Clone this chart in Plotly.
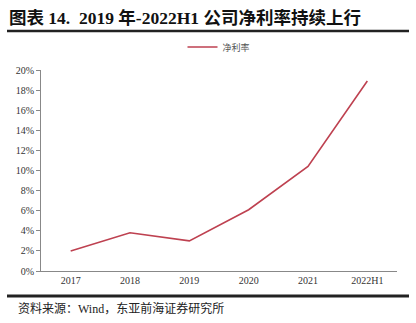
import plotly.graph_objects as go

categories = ["2017", "2018", "2019", "2020", "2021", "2022H1"]
net_margin = [0.020, 0.038, 0.030, 0.061, 0.104, 0.189]
series_name = "净利率"
y_ticks = [0, 0.02, 0.04, 0.06, 0.08, 0.10, 0.12, 0.14, 0.16, 0.18, 0.20]

W, H = 416, 323
L, R, T, B = 41, 19, 70, 52
pw = W - L - R
ph = H - T - B

def px(x):
    return (x - L) / pw

def py(y):
    return (H - B - y) / ph

fig = go.Figure()
fig.add_trace(go.Scatter(
    x=categories, y=net_margin, mode="lines", name=series_name,
    line=dict(color="#BE4150", width=1.6),
))

fig.update_layout(
    width=W, height=H,
    margin=dict(l=L, r=R, t=T, b=B),
    paper_bgcolor="white", plot_bgcolor="white",
    font=dict(family="Liberation Serif, Noto Sans CJK SC", size=10, color="#333"),
    showlegend=True,
    legend=dict(orientation="h", x=0.5, xanchor="center", y=py(47), yanchor="middle",
                font=dict(size=9, color="#555", family="Noto Sans CJK SC"),
                itemwidth=30, bgcolor="rgba(0,0,0,0)"),
    xaxis=dict(type="category", showline=True, linecolor="#888", linewidth=1,
               ticks="", showgrid=False, tickfont=dict(size=10, color="#333"),
               range=[-0.5, 5.5]),
    yaxis=dict(range=[0, 0.2], tickvals=y_ticks, tickformat=".0%", showline=True,
               linecolor="#888", linewidth=1, ticks="outside", ticklen=4,
               tickcolor="#888", showgrid=False, zeroline=False,
               tickfont=dict(size=10, color="#333")),
)

fig.add_annotation(
    text="<b>图表 14.  2019 年-2022H1 公司净利率持续上行</b>",
    xref="paper", yref="paper", x=px(7), y=py(18), xanchor="left", yanchor="middle",
    showarrow=False, font=dict(size=17.5, color="#111",
                               family="Liberation Serif, Noto Sans CJK SC"),
)
fig.add_annotation(
    text="资料来源：Wind，东亚前海证券研究所",
    xref="paper", yref="paper", x=px(16), y=py(308), xanchor="left", yanchor="middle",
    showarrow=False, font=dict(size=12, color="#222",
                               family="Liberation Serif, Noto Sans CJK SC"),
)
fig.add_shape(type="line", xref="paper", yref="paper",
              x0=px(7), x1=px(409), y0=py(31), y1=py(31),
              line=dict(color="#222", width=2.5))
fig.add_shape(type="line", xref="paper", yref="paper",
              x0=px(7), x1=px(409), y0=py(296), y1=py(296),
              line=dict(color="#222", width=3))

fig.write_html("out.html")
